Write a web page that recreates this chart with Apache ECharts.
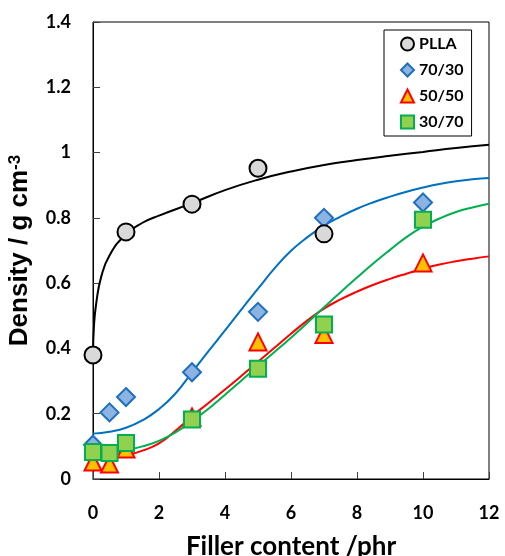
<!DOCTYPE html>
<html>
<head>
<meta charset="utf-8">
<script src="https://cdn.jsdelivr.net/npm/echarts@6/dist/echarts.min.js"></script>
<style>html,body{margin:0;padding:0;background:#fff}#c{width:505px;height:556px}</style>
</head>
<body>
<div id="c"></div>
<script>
// Measured points
const pllaPts = [[0,0.38],[1,0.757],[3,0.842],[5,0.952],[7,0.751]];
const b7030Pts = [[0,0.105],[0.5,0.204],[1,0.251],[3,0.327],[5,0.512],[7,0.80],[10,0.847]];
const b5050Pts = [[0,0.052],[0.5,0.046],[1,0.092],[3,0.19],[5,0.42],[7,0.443],[10,0.662]];
const b3070Pts = [[0,0.083],[0.5,0.08],[1,0.11],[3,0.182],[5,0.338],[7,0.473],[10,0.794]];
// Fitted curves
const pllaFit = [[0,0.38],[0.03,0.47],[0.1,0.54],[0.25,0.62],[0.5,0.685],[1,0.75],[1.5,0.785],[2,0.807],[3,0.845],[4,0.885],[5,0.917],[6,0.942],[7,0.962],[8,0.977],[9,0.99],[10,1.002],[11,1.014],[12,1.024]];
const b7030Fit = [[0,0.139],[0.5,0.145],[1,0.157],[1.5,0.18],[2,0.214],[2.5,0.262],[3,0.327],[3.5,0.392],[4,0.455],[4.5,0.52],[5,0.583],[5.5,0.645],[6,0.699],[6.5,0.741],[7,0.776],[7.5,0.804],[8,0.828],[8.5,0.848],[9,0.865],[9.5,0.88],[10,0.893],[10.5,0.904],[11,0.912],[11.5,0.918],[12,0.922]];
const b5050Fit = [[0,0.06],[0.5,0.062],[1,0.072],[1.5,0.087],[2,0.109],[2.5,0.148],[3,0.192],[3.5,0.233],[4,0.274],[4.5,0.316],[5,0.359],[5.5,0.402],[6,0.445],[6.5,0.486],[7,0.522],[7.5,0.55],[8,0.574],[8.5,0.595],[9,0.613],[9.5,0.629],[10,0.644],[10.5,0.657],[11,0.667],[11.5,0.675],[12,0.682]];
const b3070Fit = [[0,0.075],[0.5,0.078],[1,0.088],[1.5,0.1],[2,0.117],[2.5,0.143],[3,0.177],[3.5,0.215],[4,0.258],[4.5,0.302],[5,0.346],[5.5,0.389],[6,0.433],[6.5,0.479],[7,0.526],[7.5,0.572],[8,0.617],[8.5,0.661],[9,0.702],[9.5,0.741],[10,0.773],[10.5,0.798],[11,0.818],[11.5,0.832],[12,0.843]];
const xTicks = [0,2,4,6,8,10,12];
const yTicks = [0,0.2,0.4,0.6,0.8,1,1.2,1.4];

const FONT = 'Lato';
const AFONT = 'Liberation Sans';
const chart = echarts.init(document.getElementById('c'), null, {renderer:'canvas'});
function fit(data, color){
  return {type:'line', data, smooth:0.5, showSymbol:false, symbol:'none',
    lineStyle:{color, width:2}, z:2, silent:true, animation:false};
}
function pts(name, data, symbol, size, fill, stroke, z){
  return {type:'scatter', name, data, symbol, symbolSize:size,
    itemStyle:{color:fill, borderColor:stroke, borderWidth:2, opacity:1}, z, animation:false};
}
chart.setOption({
  animation:false,
  textStyle:{fontFamily:FONT},
  grid:{left:93, right:16, top:22, bottom:77, show:true, borderColor:'#000', borderWidth:1,
    containLabel:false, outerBoundsMode:'auto', outerBounds:{left:-60, top:-60, right:-60, bottom:-60}},
  xAxis:{type:'value', min:xTicks[0], max:xTicks[xTicks.length-1], interval:2,
    axisLine:{show:true, lineStyle:{color:'#000', width:1}},
    axisTick:{show:true, inside:true, length:7, lineStyle:{color:'#404040'}},
    splitLine:{show:false},
    axisLabel:{color:'#000', fontSize:18, fontWeight:'bold', fontFamily:FONT, margin:25},
    name:'Filler content /phr', nameLocation:'middle', nameGap:55,
    nameTextStyle:{color:'#000', fontSize:26, fontWeight:'bold', fontFamily:FONT}},
  yAxis:{type:'value', min:yTicks[0], max:yTicks[yTicks.length-1], interval:0.2,
    axisLine:{show:true, lineStyle:{color:'#000', width:1}},
    axisTick:{show:true, inside:true, length:7, lineStyle:{color:'#404040'}},
    splitLine:{show:false},
    axisLabel:{color:'#000', fontSize:18, fontWeight:'bold', fontFamily:FONT, margin:22},
    name:'{a|Density / g cm}{b|-3}', nameLocation:'middle', nameGap:60,
    nameTextStyle:{color:'#000', fontSize:26, fontWeight:'bold', fontFamily:AFONT,
      rich:{a:{fontSize:26, fontWeight:'bold', fontFamily:AFONT, color:'#000'},
            b:{fontSize:17, fontWeight:'bold', fontFamily:AFONT, color:'#000', verticalAlign:'top'}}}},
  legend:{orient:'vertical', left:384, top:30, width:95, padding:[6,8,6,16], itemGap:10,
    itemWidth:13, itemHeight:13, borderColor:'#000', borderWidth:1, backgroundColor:'#fff',
    textStyle:{color:'#000', fontSize:16, fontWeight:'bold', fontFamily:FONT},
    data:['PLLA','70/30','50/50','30/70']},
  series:[
    fit(pllaFit,'#000000'),
    fit(b7030Fit,'#0070c0'),
    fit(b5050Fit,'#ff0000'),
    fit(b3070Fit,'#00b050'),
    pts('70/30', b7030Pts, 'diamond', 18, '#8db3e2', '#1f6fc0', 5),
    pts('50/50', b5050Pts, 'triangle', 17, '#ffc000', '#ff0000', 6),
    pts('30/70', b3070Pts, 'rect', 16, '#92d050', '#00b050', 7),
    pts('PLLA', pllaPts, 'circle', 17, '#d9d9d9', '#000000', 8)
  ]
});
</script>
</body>
</html>
